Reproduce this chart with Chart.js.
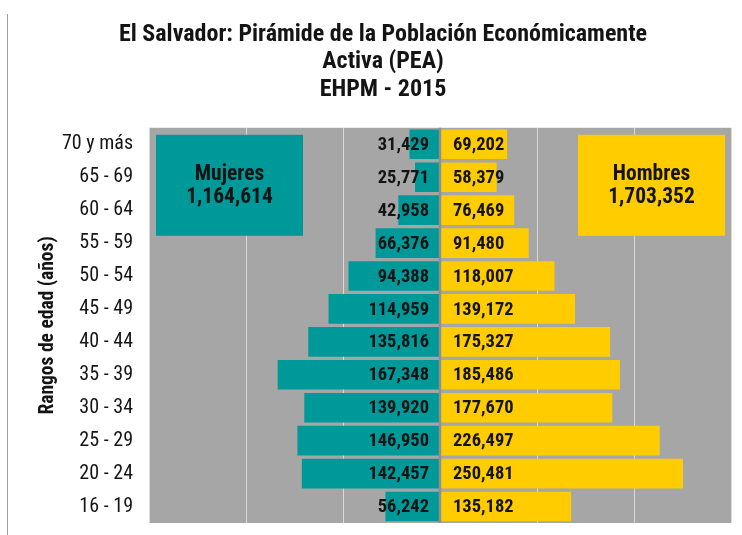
<!DOCTYPE html>
<html>
<head>
<meta charset="utf-8">
<title>Pirámide PEA 2015</title>
<script src="https://cdn.jsdelivr.net/npm/chart.js@4.4.1/dist/chart.umd.min.js"></script>
<style>
    html, body {
        margin: 0;
        padding: 0;
        background: #ffffff;
    }
    #wrap {
        position: relative;
        width: 742px;
        height: 535px;
    }
    #edge {
        position: absolute;
        left: 7px;
        top: 14px;
        bottom: 0;
        width: 1px;
        background: #a0a0a0;
    }
</style>
</head>
<body>
<div id="wrap">
    <canvas id="pyramid" width="742" height="535"></canvas>
    <div id="edge"></div>
</div>
<script>
/**
 * Age groups, top row first
 */
const AGE_GROUPS = [
    '70 y más', '65 - 69', '60 - 64', '55 - 59', '50 - 54', '45 - 49',
    '40 - 44', '35 - 39', '30 - 34', '25 - 29', '20 - 24', '16 - 19'
];

const WOMEN = [
    31429, 25771, 42958, 66376, 94388, 114959,
    135816, 167348, 139920, 146950, 142457, 56242
];

const MEN = [
    69202, 58379, 76469, 91480, 118007, 139172,
    175327, 185486, 177670, 226497, 250481, 135182
];

const TITLE_LINES = [
    'El Salvador: Pirámide de la Población Económicamente',
    'Activa (PEA)',
    'EHPM - 2015'
];

const COLORS = {
    women: '#009999',
    men: '#ffcc00',
    plot: '#a6a6a6',
    grid: '#d9d9d9',
    zero: '#8f8f8f',
    text: '#141414'
};

const FONT = '"Roboto Condensed", "Liberation Sans Narrow", "Arial Narrow", sans-serif';

function fmt(n) {
    return Math.abs(n).toLocaleString('en-US');
}

const totalWomen = WOMEN.reduce((a, b) => a + b, 0);
const totalMen = MEN.reduce((a, b) => a + b, 0);

/**
 * Grey plot background, zero line, value labels and the two total boxes
 */
const pyramidDecor = {
    id: 'pyramidDecor',
    beforeDraw(chart) {
        const { ctx, chartArea: a } = chart;
        ctx.save();
        ctx.fillStyle = COLORS.plot;
        ctx.fillRect(a.left, a.top, a.right - a.left, a.bottom - a.top);
        ctx.restore();
    },
    afterDatasetsDraw(chart) {
        const { ctx, chartArea: a } = chart;
        const x0 = chart.scales.x.getPixelForValue(0);

        ctx.save();
        ctx.strokeStyle = COLORS.zero;
        ctx.lineWidth = 2.5;
        ctx.beginPath();
        ctx.moveTo(x0, a.top);
        ctx.lineTo(x0, a.bottom);
        ctx.stroke();

        // value labels next to the centre line
        ctx.font = 'bold 18.5px ' + FONT;
        ctx.fillStyle = COLORS.text;
        ctx.textBaseline = 'middle';
        chart.data.datasets.forEach((ds, i) => {
            const meta = chart.getDatasetMeta(i);
            meta.data.forEach((bar, j) => {
                const left = ds.data[j] < 0;
                ctx.textAlign = left ? 'right' : 'left';
                ctx.fillText(fmt(ds.data[j]), left ? x0 - 11 : x0 + 13, bar.y + 1);
            });
        });

        // total boxes
        const boxW = 147, boxH = 101;
        const boxes = [
            { x: a.left + 7, color: COLORS.women, label: 'Mujeres', total: totalWomen },
            { x: a.right - 6 - boxW, color: COLORS.men, label: 'Hombres', total: totalMen }
        ];
        boxes.forEach(b => {
            const y = a.top + 7;
            ctx.fillStyle = b.color;
            ctx.fillRect(b.x, y, boxW, boxH);
            ctx.fillStyle = COLORS.text;
            ctx.font = 'bold 21.5px ' + FONT;
            ctx.textAlign = 'center';
            ctx.fillText(b.label, b.x + boxW / 2, y + boxH / 2 - 11);
            ctx.fillText(fmt(b.total), b.x + boxW / 2, y + boxH / 2 + 12);
        });
        ctx.restore();
    }
};

const ctx = document.getElementById('pyramid').getContext('2d');

new Chart(ctx, {
    type: 'bar',
    data: {
        labels: AGE_GROUPS,
        datasets: [
            {
                label: 'Mujeres',
                data: WOMEN.map(v => -v),
                backgroundColor: COLORS.women,
                barPercentage: 0.9,
                categoryPercentage: 1.0
            },
            {
                label: 'Hombres',
                data: MEN,
                backgroundColor: COLORS.men,
                barPercentage: 0.9,
                categoryPercentage: 1.0
            }
        ]
    },
    options: {
        indexAxis: 'y',
        responsive: false,
        animation: false,
        layout: {
            padding: { left: 35, right: 11, top: 0, bottom: 12 }
        },
        scales: {
            x: {
                stacked: true,
                min: -300000,
                max: 300000,
                ticks: { display: false, stepSize: 100000 },
                grid: {
                    color: COLORS.grid,
                    lineWidth: 1,
                    drawTicks: false
                },
                border: { display: false },
                afterFit(scale) {
                    scale.height = 0;
                }
            },
            y: {
                stacked: true,
                grid: { display: false, drawTicks: false },
                border: { display: false },
                ticks: {
                    color: COLORS.text,
                    padding: 16,
                    font: { family: FONT, size: 20 }
                },
                title: {
                    display: true,
                    text: 'Rangos de edad (años)',
                    color: COLORS.text,
                    padding: { top: 1, bottom: 0 },
                    font: { family: FONT, size: 19.5, weight: 'bold' }
                },
                afterFit(scale) {
                    scale.width = 114;
                    scale.paddingTop = 0;
                    scale.paddingBottom = 0;
                }
            }
        },
        plugins: {
            legend: { display: false },
            tooltip: { enabled: false },
            title: {
                display: true,
                text: TITLE_LINES,
                color: COLORS.text,
                padding: { top: 21, bottom: 24 },
                font: { family: FONT, size: 24, weight: 'bold', lineHeight: 1.15 }
            }
        }
    },
    plugins: [pyramidDecor]
});
</script>
</body>
</html>
